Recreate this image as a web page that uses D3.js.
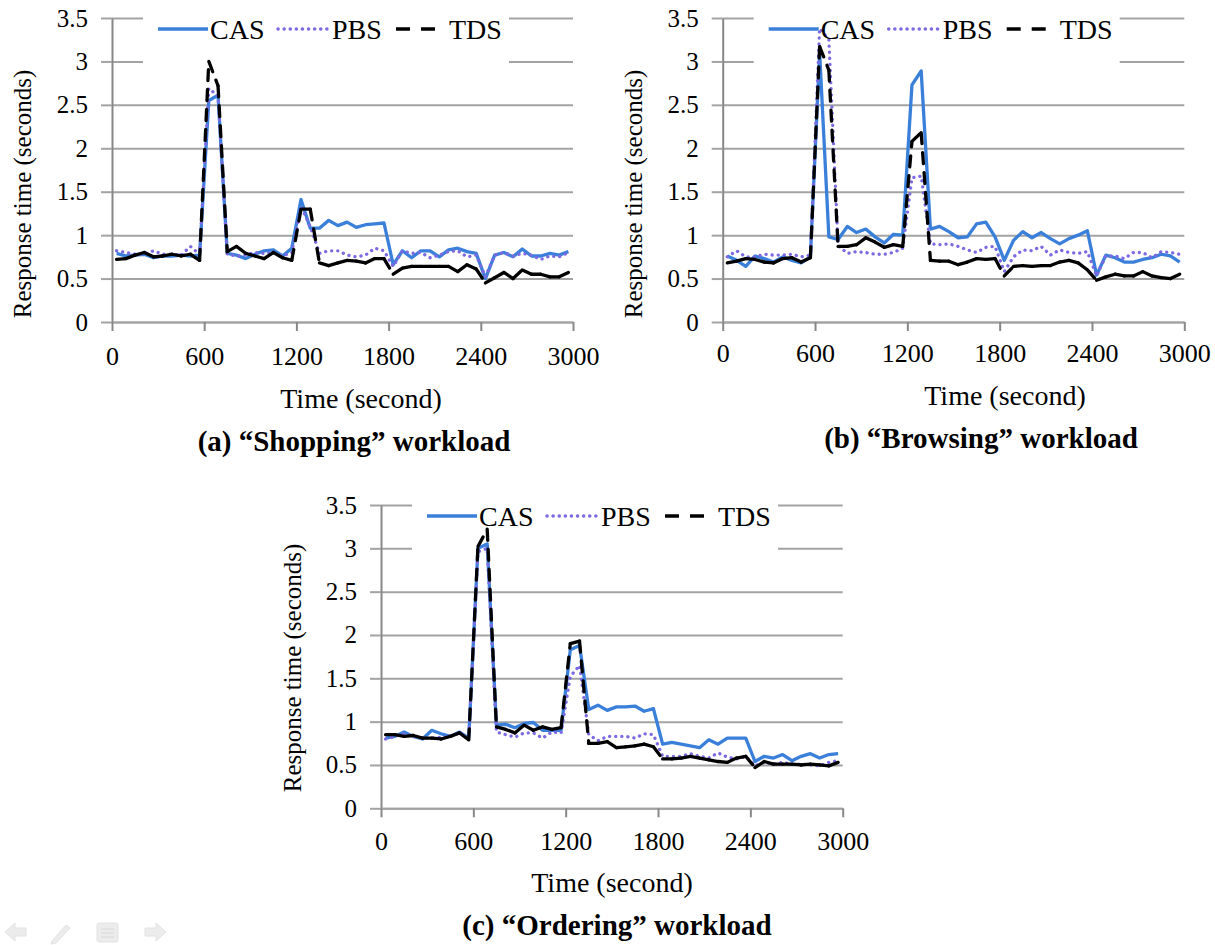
<!DOCTYPE html>
<html>
<head>
<meta charset="utf-8">
<script src="https://cdn.jsdelivr.net/npm/d3@7"></script>
<style>
  html, body { margin: 0; padding: 0; background: #ffffff; }
  svg { display: block; }
  svg text { font-family: "Liberation Serif", "Times New Roman", serif; fill: #000; }
</style>
</head>
<body>
<svg id="fig" width="1215" height="945"></svg>
<script>
// Sample times (seconds): one measurement per minute
const timeSeconds = [30, 90, 150, 210, 270, 330, 390, 450, 510, 570,
  630, 690, 750, 810, 870, 930, 990, 1050, 1110, 1170,
  1230, 1290, 1350, 1410, 1470, 1530, 1590, 1650, 1710, 1770,
  1830, 1890, 1950, 2010, 2070, 2130, 2190, 2250, 2310, 2370,
  2430, 2490, 2550, 2610, 2670, 2730, 2790, 2850, 2910, 2970];

const xTicks = [0, 600, 1200, 1800, 2400, 3000];
const yTicks = [0, 0.5, 1, 1.5, 2, 2.5, 3, 3.5];
const seriesNames = ["CAS", "PBS", "TDS"];
const captions = ["(a) \u201cShopping\u201d workload", "(b) \u201cBrowsing\u201d workload", "(c) \u201cOrdering\u201d workload"];

// Response time (seconds), "Shopping" workload
const shoppingCAS = [0.79,0.76,0.77,0.78,0.74,0.76,0.76,0.77,0.76,0.77, 2.55,2.61, 0.79,0.77,0.73,0.78,0.82,0.83,0.76,0.85,
  1.41,1.08, 1.08,1.17,1.11,1.15,1.09,1.12,1.13,1.14, 0.66,0.82,0.74,0.82,0.82,0.75,0.83,0.85,0.81,0.79,
  0.50,0.77,0.80,0.75,0.84,0.76,0.76,0.79,0.77,0.81];
const shoppingPBS = [0.82,0.80,0.78,0.78,0.82,0.78,0.78,0.77,0.87,0.78, 2.69,2.60, 0.78,0.76,0.77,0.80,0.79,0.80,0.76,0.80,
  1.33,1.10, 0.79,0.82,0.82,0.77,0.75,0.77,0.85,0.82, 0.64,0.82,0.79,0.80,0.74,0.77,0.81,0.82,0.75,0.77,
  0.52,0.77,0.80,0.76,0.79,0.77,0.72,0.76,0.75,0.80];
const shoppingTDS = [0.72,0.73,0.77,0.80,0.75,0.76,0.78,0.76,0.78,0.71, 3.00,2.72, 0.81,0.87,0.79,0.76,0.73,0.80,0.74,0.71,
  1.30,1.30, 0.68,0.65,0.68,0.71,0.70,0.68,0.73,0.73, 0.55,0.62,0.64,0.64,0.64,0.64,0.64,0.58,0.66,0.61,
  0.45,0.51,0.57,0.50,0.60,0.55,0.55,0.52,0.52,0.57];

// Response time (seconds), "Browsing" workload
const browsingCAS = [0.76,0.71,0.64,0.76,0.73,0.69,0.75,0.71,0.68,0.75, 3.10,0.98, 0.95,1.10,1.03,1.07,0.98,0.91,1.01,1.00,
  2.73,2.89, 1.07,1.10,1.04,0.97,0.98,1.13,1.15,0.98, 0.71,0.94,1.04,0.97,1.03,0.96,0.90,0.96,1.00,1.05,
  0.54,0.77,0.74,0.69,0.69,0.72,0.74,0.78,0.76,0.69];
const browsingPBS = [0.75,0.82,0.75,0.75,0.78,0.77,0.77,0.78,0.75,0.77, 3.38,3.25, 0.88,0.79,0.81,0.80,0.78,0.78,0.80,0.85,
  1.66,1.68, 0.90,0.89,0.90,0.87,0.83,0.80,0.86,0.87, 0.58,0.75,0.83,0.82,0.87,0.77,0.83,0.80,0.79,0.81,
  0.53,0.76,0.76,0.73,0.80,0.80,0.74,0.81,0.80,0.78];
const browsingTDS = [0.68,0.70,0.73,0.72,0.69,0.68,0.73,0.74,0.69,0.74, 3.17,2.90, 0.87,0.87,0.89,0.97,0.92,0.86,0.89,0.87,
  2.08,2.18, 0.71,0.70,0.70,0.66,0.69,0.73,0.72,0.73, 0.53,0.64,0.65,0.64,0.65,0.65,0.69,0.71,0.68,0.60,
  0.48,0.52,0.55,0.53,0.53,0.58,0.53,0.51,0.50,0.55];

// Response time (seconds), "Ordering" workload
const orderingCAS = [0.81,0.83,0.88,0.83,0.80,0.90,0.86,0.83,0.88,0.81, 3.00,3.05, 0.96,0.97,0.93,0.98,0.99,0.90,0.90,0.90,
  1.83,1.88, 1.14,1.19,1.13,1.17,1.17,1.18,1.12,1.15, 0.74,0.76,0.74,0.72,0.70,0.79,0.74,0.81,0.81,0.81,
  0.54,0.60,0.58,0.62,0.55,0.60,0.63,0.58,0.62,0.63];
const orderingPBS = [0.80,0.83,0.86,0.83,0.81,0.81,0.82,0.83,0.87,0.81, 2.96,3.00, 0.88,0.85,0.82,0.87,0.87,0.81,0.88,0.87,
  1.52,1.65, 0.85,0.78,0.83,0.83,0.83,0.81,0.86,0.85, 0.60,0.60,0.60,0.63,0.60,0.58,0.64,0.59,0.57,0.60,
  0.49,0.53,0.51,0.53,0.51,0.51,0.50,0.49,0.53,0.55];
const orderingTDS = [0.85,0.85,0.83,0.84,0.81,0.81,0.80,0.83,0.87,0.79, 3.02,3.22, 0.94,0.91,0.87,0.96,0.90,0.94,0.91,0.93,
  1.90,1.93, 0.75,0.75,0.77,0.70,0.71,0.72,0.74,0.71, 0.57,0.57,0.58,0.60,0.58,0.56,0.54,0.53,0.58,0.60,
  0.47,0.54,0.51,0.51,0.51,0.50,0.51,0.50,0.49,0.53];

const svg = d3.select("#fig");
svg.append("rect").attr("width", 1215).attr("height", 945).attr("fill", "#fff");

const SERIF = "'Liberation Serif', 'Times New Roman', serif";
const colors = { CAS: "#3a7fd9", PBS: "#7b6ae2", TDS: "#000000" };
const gridColor = "#a3a3a3";
const axisColor = "#888888";

// Plot-area placement of each panel; textShift nudges the labels under the plot
const panels = [
  { left: 112, right: 573, top: 18, bottom: 322, textShift: 0, series: [shoppingCAS, shoppingPBS, shoppingTDS],
    caption: captions[0], yTitleX: 22, yTitleY: 194, xTitleX: 361, captionX: 354 },
  { left: 722.7, right: 1184.3, top: 18, bottom: 322, textShift: -3, series: [browsingCAS, browsingPBS, browsingTDS],
    caption: captions[1], yTitleX: 633, yTitleY: 194, xTitleX: 1005, captionX: 981 },
  { left: 381, right: 842.7, top: 505, bottom: 808.3, textShift: -2, series: [orderingCAS, orderingPBS, orderingTDS],
    caption: captions[2], yTitleX: 292, yTitleY: 668, xTitleX: 612, captionX: 617 }
];

function drawPanel(p) {
  const x = d3.scaleLinear().domain([0, 3000]).range([p.left, p.right]);
  const y = d3.scaleLinear().domain([0, 3.5]).range([p.bottom, p.top]);
  const width = p.right - p.left;
  const g = svg.append("g");

  // Horizontal gridlines
  const grid = g.append("g").attr("transform", `translate(${p.left},0)`)
    .call(d3.axisLeft(y).tickValues(yTicks).tickSize(-width).tickFormat(""));
  grid.select(".domain").remove();
  grid.selectAll(".tick line").attr("stroke", gridColor).attr("stroke-width", 2);

  // Value axis with outside ticks and labels
  const yAxis = g.append("g").attr("transform", `translate(${p.left},0)`)
    .call(d3.axisLeft(y).tickValues(yTicks).tickFormat(d3.format("")).tickSize(11).tickSizeOuter(0).tickPadding(13));
  yAxis.attr("font-family", SERIF).attr("font-size", 25);
  yAxis.select(".domain").attr("stroke", axisColor).attr("stroke-width", 2);
  yAxis.selectAll(".tick line").attr("stroke", gridColor).attr("stroke-width", 2);
  yAxis.selectAll(".tick text").attr("fill", "#000");

  // Time axis
  const xAxis = g.append("g").attr("transform", `translate(0,${p.bottom})`)
    .call(d3.axisBottom(x).tickValues(xTicks).tickFormat(d3.format("d")).tickSize(9).tickSizeOuter(0).tickPadding(16 + p.textShift));
  xAxis.attr("font-family", SERIF).attr("font-size", 26);
  xAxis.select(".domain").attr("stroke", gridColor).attr("stroke-width", 2);
  xAxis.selectAll(".tick line").attr("stroke", axisColor).attr("stroke-width", 2);
  xAxis.selectAll(".tick text").attr("fill", "#000");

  // Legend background box
  g.append("rect")
    .attr("x", p.left + 31).attr("y", p.top - 12)
    .attr("width", 366).attr("height", 66)
    .attr("fill", "#fff");

  const pts = s => s.map((v, i) => [x(timeSeconds[i]), y(v)]);
  const line = d3.line();

  // CAS: solid
  g.append("path").attr("d", line(pts(p.series[0])))
    .attr("fill", "none").attr("stroke", colors.CAS).attr("stroke-width", 3.3)
    .attr("stroke-linejoin", "round");

  // PBS: round dots
  g.append("path").attr("d", line(pts(p.series[1])))
    .attr("fill", "none").attr("stroke", colors.PBS).attr("stroke-width", 3.3)
    .attr("stroke-linecap", "round").attr("stroke-dasharray", "0.1,6");

  // TDS: dashes restart on each segment, so short steps render solid
  d3.pairs(pts(p.series[2])).forEach(seg => {
    g.append("path").attr("d", line(seg))
      .attr("fill", "none").attr("stroke", colors.TDS).attr("stroke-width", 3.3)
      .attr("stroke-linecap", "round").attr("stroke-dasharray", "11,9");
  });

  // Legend entries
  const ly = p.top + 11;
  const legendItems = [
    { name: seriesNames[0], x0: 46, tx: 98, dash: null, cap: "butt" },
    { name: seriesNames[1], x0: 166, tx: 220, dash: "0.1,6", cap: "round" },
    { name: seriesNames[2], x0: 284, tx: 337, dash: "14,11", cap: "butt" }
  ];
  legendItems.forEach(it => {
    g.append("line")
      .attr("x1", p.left + it.x0).attr("x2", p.left + it.x0 + 50)
      .attr("y1", ly).attr("y2", ly)
      .attr("stroke", colors[it.name]).attr("stroke-width", 3.5)
      .attr("stroke-linecap", it.cap)
      .attr("stroke-dasharray", it.dash);
    g.append("text").attr("x", p.left + it.tx).attr("y", ly + 9.5)
      .attr("font-size", 28).text(it.name);
  });

  // Axis titles
  g.append("text")
    .attr("transform", `translate(${p.yTitleX},${p.yTitleY}) rotate(-90)`)
    .attr("text-anchor", "middle").attr("dominant-baseline", "central")
    .attr("font-size", 25).text("Response time (seconds)");
  g.append("text").attr("x", p.xTitleX).attr("y", p.bottom + 86 + p.textShift)
    .attr("text-anchor", "middle").attr("font-size", 28).text("Time (second)");

  // Caption
  g.append("text").attr("x", p.captionX).attr("y", p.bottom + 129 + p.textShift)
    .attr("text-anchor", "middle").attr("font-size", 29).attr("font-weight", "bold")
    .text(p.caption);
}

panels.forEach(drawPanel);

// Faint slide-show navigation controls in the lower-left corner
const nav = svg.append("g").attr("fill", "#ececec").attr("stroke", "#e2e2e2").attr("stroke-width", 1);
nav.append("path").attr("d", "M5,932 L15,923 L15,928 L26,928 L26,936 L15,936 L15,941 Z");
nav.append("path").attr("d", "M52,941 L66,925 L70,928 L56,943 L51,944 Z");
nav.append("rect").attr("x", 97).attr("y", 923).attr("width", 21).attr("height", 19).attr("rx", 2);
nav.append("path").attr("d", "M101,929 H114 M101,933 H114 M101,937 H114").attr("stroke", "#d8d8d8").attr("fill", "none");
nav.append("path").attr("d", "M166,932 L156,923 L156,928 L145,928 L145,936 L156,936 L156,941 Z");
</script>
</body>
</html>
